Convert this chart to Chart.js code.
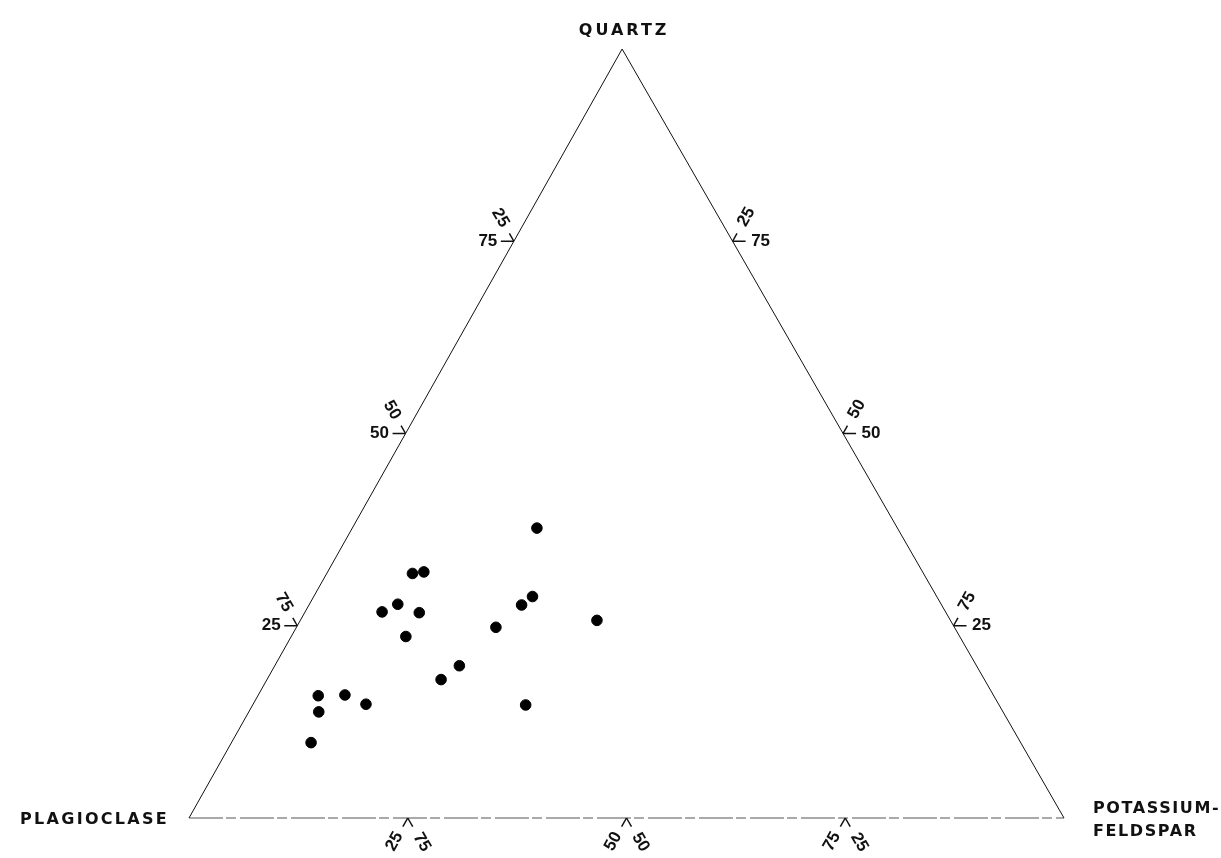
<!DOCTYPE html>
<html>
<head>
<meta charset="utf-8">
<title>Quartz - Plagioclase - Potassium-feldspar</title>
<script src="https://cdn.jsdelivr.net/npm/chart.js@4/dist/chart.umd.min.js"></script>
<style>
  html, body { margin: 0; padding: 0; background: #fff; }
  #wrap { width: 1221px; height: 858px; position: relative; }
</style>
</head>
<body>
<div id="wrap"><canvas id="ternary"></canvas></div>
<script>
/* ---------- data (modal %) ---------- */
const QUARTZ      = [37.7, 31.8, 32.0, 26.8, 27.8, 26.7, 23.6, 27.7, 28.8, 24.8, 25.7, 19.8, 18.0, 15.9, 16.0, 14.8, 13.8, 14.7, 9.8];
const PLAGIOCLASE = [41.2, 58.4, 57.0, 64.4, 62.1, 60.2, 63.3, 48.0, 46.2, 52.4, 40.4, 59.1, 62.1, 77.2, 74.1, 72.3, 78.2, 54.1, 81.1];
const K_FELDSPAR  = [21.1, 9.8, 11.0, 8.8, 10.1, 13.1, 13.1, 24.3, 25.0, 22.8, 33.9, 21.1, 19.9, 6.9, 9.9, 12.9, 8.0, 31.2, 9.1];

const TICK_VALUES = [25, 50, 75];
const CORNER_NAMES = ["QUARTZ", "PLAGIOCLASE", "POTASSIUM-", "FELDSPAR"];

/* ---------- layout ---------- */
const SKEW = 0.495;          // apex sits a little left of the base midpoint in the original
const NUM_FONT = 'bold 17px "Liberation Sans"';
const NAME_FONT = 'bold 16px "DejaVu Sans"';
const INK = "#111";

// ternary (K, Q) -> plot coordinates
const toXY = (k, q) => ({ x: k + SKEW * q, y: q });

const samplePoints = QUARTZ.map((q, i) => toXY(K_FELDSPAR[i], q));
const vP = toXY(0, 0), vK = toXY(100, 0), vQ = toXY(0, 100);

/* ---------- ticks + labels plugin ---------- */
const ternaryDecor = {
  id: "ternaryDecor",
  afterDatasetsDraw(chart) {
    const { ctx, scales: { x, y } } = chart;
    const px = (p) => ({ x: x.getPixelForValue(p.x), y: y.getPixelForValue(p.y) });
    const P = px(vP), K = px(vK), Q = px(vQ);
    const unit = (a, b) => {
      const dx = b.x - a.x, dy = b.y - a.y, l = Math.hypot(dx, dy);
      return { x: dx / l, y: dy / l };
    };
    const upLeft = unit(K, Q), upRight = unit(P, Q);
    const downLeft = unit(Q, P), downRight = unit(Q, K);
    const left = { x: -1, y: 0 }, right = { x: 1, y: 0 };

    ctx.save();
    ctx.strokeStyle = INK;
    ctx.lineWidth = 1.5;
    const stroke = (p, d, len) => {
      ctx.beginPath();
      ctx.moveTo(p.x, p.y);
      ctx.lineTo(p.x + d.x * len, p.y + d.y * len);
      ctx.stroke();
    };
    const text = (str, p, d, dist, rotate) => {
      ctx.save();
      ctx.translate(p.x + d.x * dist, p.y + d.y * dist);
      if (rotate) {
        let a = Math.atan2(d.y, d.x);
        if (a > Math.PI / 2) a -= Math.PI;
        if (a < -Math.PI / 2) a += Math.PI;
        ctx.rotate(a);
      }
      ctx.fillText(str, 0, 0);
      ctx.restore();
    };

    ctx.fillStyle = INK;
    ctx.font = NUM_FONT;
    ctx.textAlign = "center";
    ctx.textBaseline = "middle";

    TICK_VALUES.forEach((t) => {
      // left edge (K = 0): quartz horizontal, plagioclase along the edge
      const pl = px(toXY(0, t));
      stroke(pl, left, 13);
      stroke(pl, upLeft, 9);
      text(String(t), pl, left, 26, false);
      text(String(100 - t), pl, upLeft, 27, true);

      // right edge (P = 0): quartz horizontal, K-feldspar along the edge
      const pr = px(toXY(100 - t, t));
      stroke(pr, right, 13);
      stroke(pr, upRight, 9);
      text(String(t), pr, right, 28, false);
      text(String(100 - t), pr, upRight, 28, true);

      // base (Q = 0): K-feldspar down-left, plagioclase down-right
      const pb = px(toXY(t, 0));
      stroke(pb, downLeft, 10);
      stroke(pb, downRight, 10);
      text(String(t), pb, downLeft, 27, true);
      text(String(100 - t), pb, downRight, 28, true);
    });

    // corner names
    ctx.font = NAME_FONT;
    ctx.textBaseline = "middle";
    ctx.textAlign = "center";
    ctx.letterSpacing = "3px";
    ctx.fillText(CORNER_NAMES[0], Q.x + 2, Q.y - 18);
    ctx.textAlign = "left";
    ctx.letterSpacing = "2.3px";
    ctx.fillText(CORNER_NAMES[1], 20, P.y + 2);
    ctx.letterSpacing = "1.6px";
    ctx.fillText(CORNER_NAMES[2], K.x + 29, K.y - 9);
    ctx.fillText(CORNER_NAMES[3], K.x + 29, K.y + 14);
    ctx.restore();
  },
};

/* ---------- chart ---------- */
new Chart(document.getElementById("ternary"), {
  type: "scatter",
  data: {
    datasets: [
      {
        label: "edges",
        data: [vP, vQ, vK],
        showLine: true,
        borderColor: INK,
        borderWidth: 1,
        pointRadius: 0,
        clip: false,
      },
      {
        label: "base",
        data: [vP, vK],
        showLine: true,
        borderColor: "#555",
        borderWidth: 1,
        borderDash: [34, 3, 10, 4],
        pointRadius: 0,
        clip: false,
      },
      {
        label: "samples",
        data: samplePoints,
        backgroundColor: "#000",
        borderColor: "#000",
        pointRadius: 5.3,
        pointHoverRadius: 5.3,
        clip: false,
      },
    ],
  },
  options: {
    responsive: true,
    maintainAspectRatio: false,
    animation: false,
    layout: { padding: { left: 189, right: 157, top: 49, bottom: 40 } },
    plugins: { legend: { display: false }, tooltip: { enabled: false } },
    scales: {
      x: { type: "linear", min: 0, max: 100, display: false },
      y: { type: "linear", min: 0, max: 100, display: false },
    },
  },
  plugins: [ternaryDecor],
});
</script>
</body>
</html>
